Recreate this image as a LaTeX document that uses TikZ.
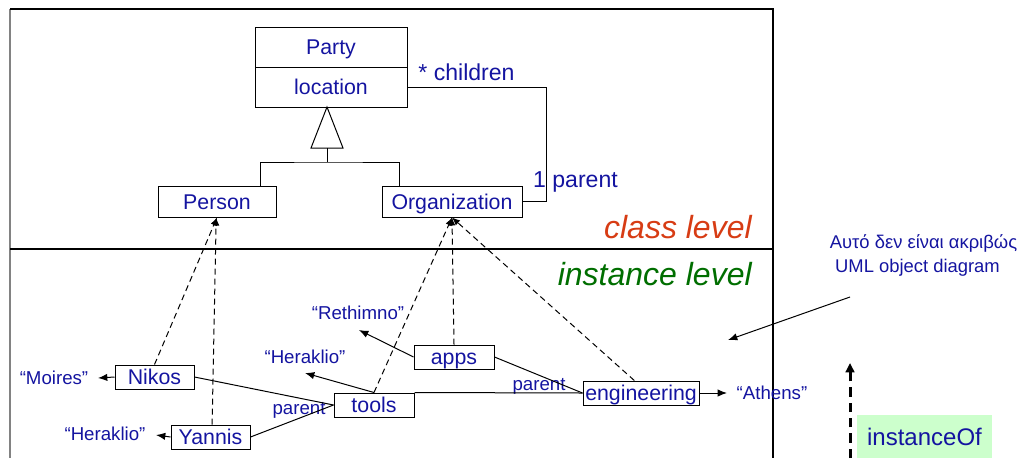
\documentclass[tikz,border=0pt]{standalone}
\usepackage{fontspec}
\setmainfont{Liberation Sans}
\usetikzlibrary{arrows.meta}
\definecolor{txtblue}{RGB}{20,20,160}
\definecolor{clsred}{RGB}{215,60,20}
\definecolor{instgreen}{RGB}{0,110,0}
\definecolor{iofill}{RGB}{204,255,204}
\definecolor{framegrey}{RGB}{130,130,130}
\begin{document}
\begin{tikzpicture}[x=0.75pt,y=-0.75pt,
  box/.style={draw=black, line width=0.75pt, inner sep=0pt, text=txtblue,
    font=\fontsize{16}{18}\selectfont, text height=11.5pt, text depth=0pt},
  clsbox/.style={box, minimum height=23.25pt},
  objbox/.style={box, minimum height=18pt, minimum width=59.25pt},
  lbl/.style={text=txtblue, inner sep=0pt, font=\fontsize{14}{16}\selectfont},
  mult/.style={text=txtblue, inner sep=0pt, font=\fontsize{17.3}{20}\selectfont},
  note/.style={text=txtblue, inner sep=0pt, font=\fontsize{13.8}{16}\selectfont},
  level/.style={inner sep=0pt, font=\fontsize{24}{28}\selectfont\itshape, anchor=east},
  arr/.style={line width=0.75pt, -{Latex[length=7pt,width=5.5pt]}},
  inst/.style={line width=0.75pt, dash pattern=on 4.5pt off 3pt, -{Latex[length=6pt,width=5pt]}},
  link/.style={line width=0.75pt}
]
\useasboundingbox (0,0) rectangle (1023,458);

% frame
\draw[framegrey, line width=1.5pt] (10,9) -- (10,458);
\draw[line width=0.9pt] (10,9) -- (773,9) -- (773,458);
\draw[line width=0.9pt] (10,249) -- (773,249);

% class level
\node[box, minimum width=114pt, minimum height=30pt] (partyname) at (331,47) {Party};
\node[box, minimum width=114pt, minimum height=30pt] (partyloc) at (331,87) {location};
\node[clsbox, minimum width=88.5pt] (person) at (217,201.5) {Person};
\node[clsbox, minimum width=105pt] (org) at (452,201.5) {Organization};

% generalization
\coordinate (apex) at (327,107);
\coordinate (bl) at (311,148);
\coordinate (br) at (343,148);
\coordinate (bm) at (327,148);
\coordinate (junc) at (327,162);
\coordinate (pertop) at (260,186);
\coordinate (orgtop) at (399,186);
\draw[link] (apex) -- (br) -- (bl) -- cycle;
\draw[link] (bm) -- (junc);
\draw[link] (pertop) |- (junc) -| (orgtop);

% association
\coordinate (assocC) at (546,201.5);
\draw[link] (partyloc.east) -| (assocC) -- (org.east);
\node[mult] (children) at (466.5,72) {* children};
\node[mult] (parentlbl) at (575.5,182) {1 parent};

\node[level, text=clsred] (clslevel) at (752,227) {class level};
\node[level, text=instgreen] (instlevel) at (752,274) {instance level};

% instance level
\node[objbox] (nikos) at (154.5,377) {Nikos};
\node[objbox] (yannis) at (210.5,437) {Yannis};
\node[objbox, minimum width=60pt] (tools) at (374,405) {tools};
\node[objbox, minimum width=60pt] (apps) at (454,357) {apps};
\node[objbox, minimum width=87pt] (eng) at (641,393) {engineering};

\node[lbl] (moires) at (54,378) {“Moires”};
\node[lbl] (herY) at (105,434) {“Heraklio”};
\node[lbl] (reth) at (358,313) {“Rethimno”};
\node[lbl] (herT) at (305,357) {“Heraklio”};
\node[lbl] (athens) at (772,393) {“Athens”};
\node[lbl] (parT) at (299,410) {parent};
\node[lbl] (parE) at (539,386) {parent};

\coordinate (moiresTip) at (98,378);
\coordinate (herYTip) at (156,435);
\coordinate (rethTip) at (359,330);
\coordinate (herTTip) at (305,373);
\coordinate (athensTip) at (727,393);
\draw[arr] (nikos.west) -- (moiresTip);
\draw[arr] (yannis.west) -- (herYTip);
\draw[arr] (apps.west) -- (rethTip);
\draw[arr] (tools.north) -- (herTTip);
\draw[arr] (eng.east) -- (athensTip);

\draw[link] (nikos.east) -- (tools.west);
\draw[link] (yannis.east) -- (tools.west);
\draw[link] (tools.north east) -- (eng.west);
\draw[link] (apps.east) -- (eng.west);

% instanceOf links
\draw[inst] (nikos.north) -- (person.south);
\draw[inst] ([xshift=1.2pt]yannis.north) -- ([xshift=-0.6pt]person.south);
\draw[inst] (tools.north) -- (org.south);
\draw[inst] (apps.north) -- (org.south);
\draw[inst] ([xshift=-5pt]eng.north) -- (org.south);

% note
\node[note] (note1) at (923.5,243) {Αυτό δεν είναι ακριβώς};
\node[note] (note2) at (917.5,268) {UML object diagram};
\coordinate (noteStart) at (850,297);
\coordinate (noteTip) at (728,340);
\draw[arr] (noteStart) -- (noteTip);

% legend
\coordinate (legBot) at (850,458);
\coordinate (legTop) at (850,363);
\draw[line width=2.25pt, dash pattern=on 7pt off 4.5pt, -{Triangle[length=7pt,width=6.5pt]}] (legBot) -- (legTop);
\node[fill=iofill, inner sep=0pt, minimum width=101.25pt, minimum height=32.25pt,
  text=txtblue, font=\fontsize{18}{21}\selectfont] (iof) at (924.5,436.5) {instanceOf};
\end{tikzpicture}
\end{document}
